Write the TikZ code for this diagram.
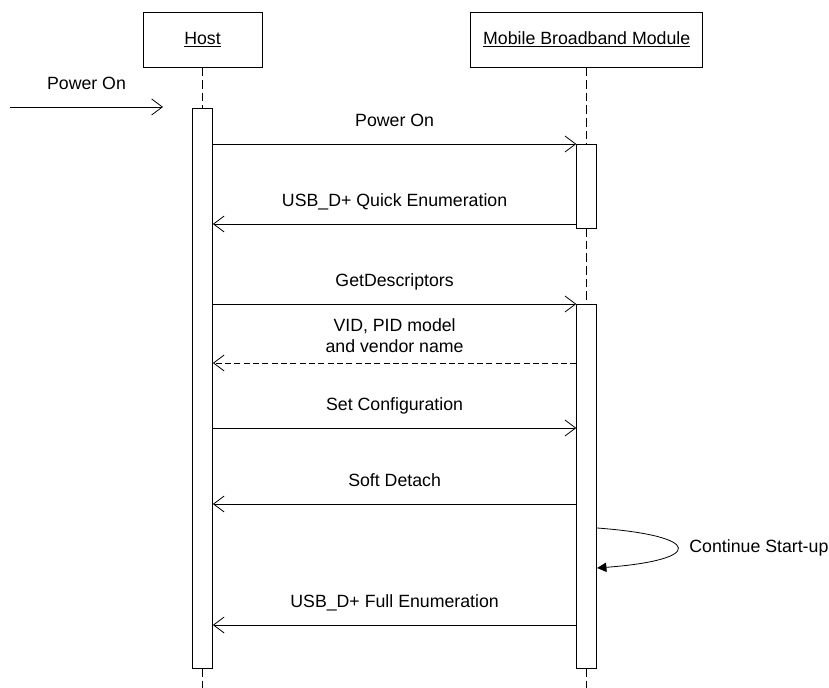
\documentclass[tikz,border=0pt]{standalone}
\usepackage{fontspec}
\setmainfont{Liberation Sans}
\usetikzlibrary{arrows.meta,positioning}

\begin{document}
\begin{tikzpicture}
[
x=0.75pt, y=-0.75pt,
line width=0.6pt,
objbox/.style={rectangle, draw=black, minimum height=41.25pt, font=\fontsize{13.3}{16}\selectfont},
actbar/.style={rectangle, draw=black, fill=white, minimum width=15pt, inner sep=0pt, anchor=north},
lifeline/.style={dash pattern=on 6.5pt off 3pt},
msg/.style={-{Straight Barb[length=8pt, width=12pt]}},
reply/.style={msg, dash pattern=on 4.5pt off 2.5pt},
msglabel/.style={anchor=base, yshift=13pt, inner sep=0pt, font=\fontsize{13.3}{16}\selectfont},
]
\useasboundingbox (0,0) rectangle (829,688);
%draw the heads
\node[objbox, minimum width=89.25pt] (host) at (202.5,39.5) {\underline{Host}};
\node[objbox, minimum width=174pt] (module) at (586.7,39.5) {\underline{Mobile Broadband Module}};
%rows of the messages
\coordinate (r0) at (0,107);
\coordinate (r1) at (0,144);
\coordinate (r2) at (0,224);
\coordinate (r3) at (0,304);
\coordinate (r4) at (0,363);
\coordinate (r5) at (0,428);
\coordinate (r6) at (0,504);
\coordinate (r7) at (0,625);
\coordinate (hostend) at (202.5,688);
\coordinate (modend) at (586.7,688);
%draw the lifelines
\draw[lifeline] (host.south) -- (202.5,108);
\draw[lifeline] (202.5,668) -- (hostend);
\draw[lifeline] (module.south) -- (586.7,144);
\draw[lifeline] (586.7,228) -- (586.7,304);
\draw[lifeline] (586.7,668) -- (modend);
%draw the activation bars
\node[actbar, minimum height=420pt] (hostact) at (202.5,108) {};
\node[actbar, minimum height=63pt] (modact1) at (586.7,144) {};
\node[actbar, minimum height=273pt] (modact2) at (586.7,304) {};
%draw the messages
\coordinate (pwrsrc) at (10,107);
\coordinate (pwrtip) at (163,107);
\draw[msg] (pwrsrc) -- node[msglabel] {Power On} (pwrtip);
\draw[msg] (hostact.east |- r1) -- node[msglabel] {Power On} (modact1.west |- r1);
\draw[msg] (modact1.west |- r2) -- node[msglabel] {USB\_D+ Quick Enumeration} (hostact.east |- r2);
\draw[msg] (hostact.east |- r3) -- node[msglabel] {GetDescriptors} (modact2.west |- r3);
\draw[reply] (modact2.west |- r4) -- node[msglabel, yshift=-5.5pt, align=center] {VID, PID model\\and vendor name} (hostact.east |- r4);
\draw[msg] (hostact.east |- r5) -- node[msglabel] {Set Configuration} (modact2.west |- r5);
\draw[msg] (modact2.west |- r6) -- node[msglabel] {Soft Detach} (hostact.east |- r6);
\draw[msg] (modact2.west |- r7) -- node[msglabel] {USB\_D+ Full Enumeration} (hostact.east |- r7);
%draw the self call
\draw[-{Triangle[length=7pt, width=7pt]}] (modact2.east |- 0,528) .. controls (704,536) and (704,560) .. (modact2.east |- 0,568);
\node[anchor=west, inner sep=0pt, font=\fontsize{13.3}{16}\selectfont] (startup) at (689,548) {Continue Start-up};
\end{tikzpicture}
\end{document}
